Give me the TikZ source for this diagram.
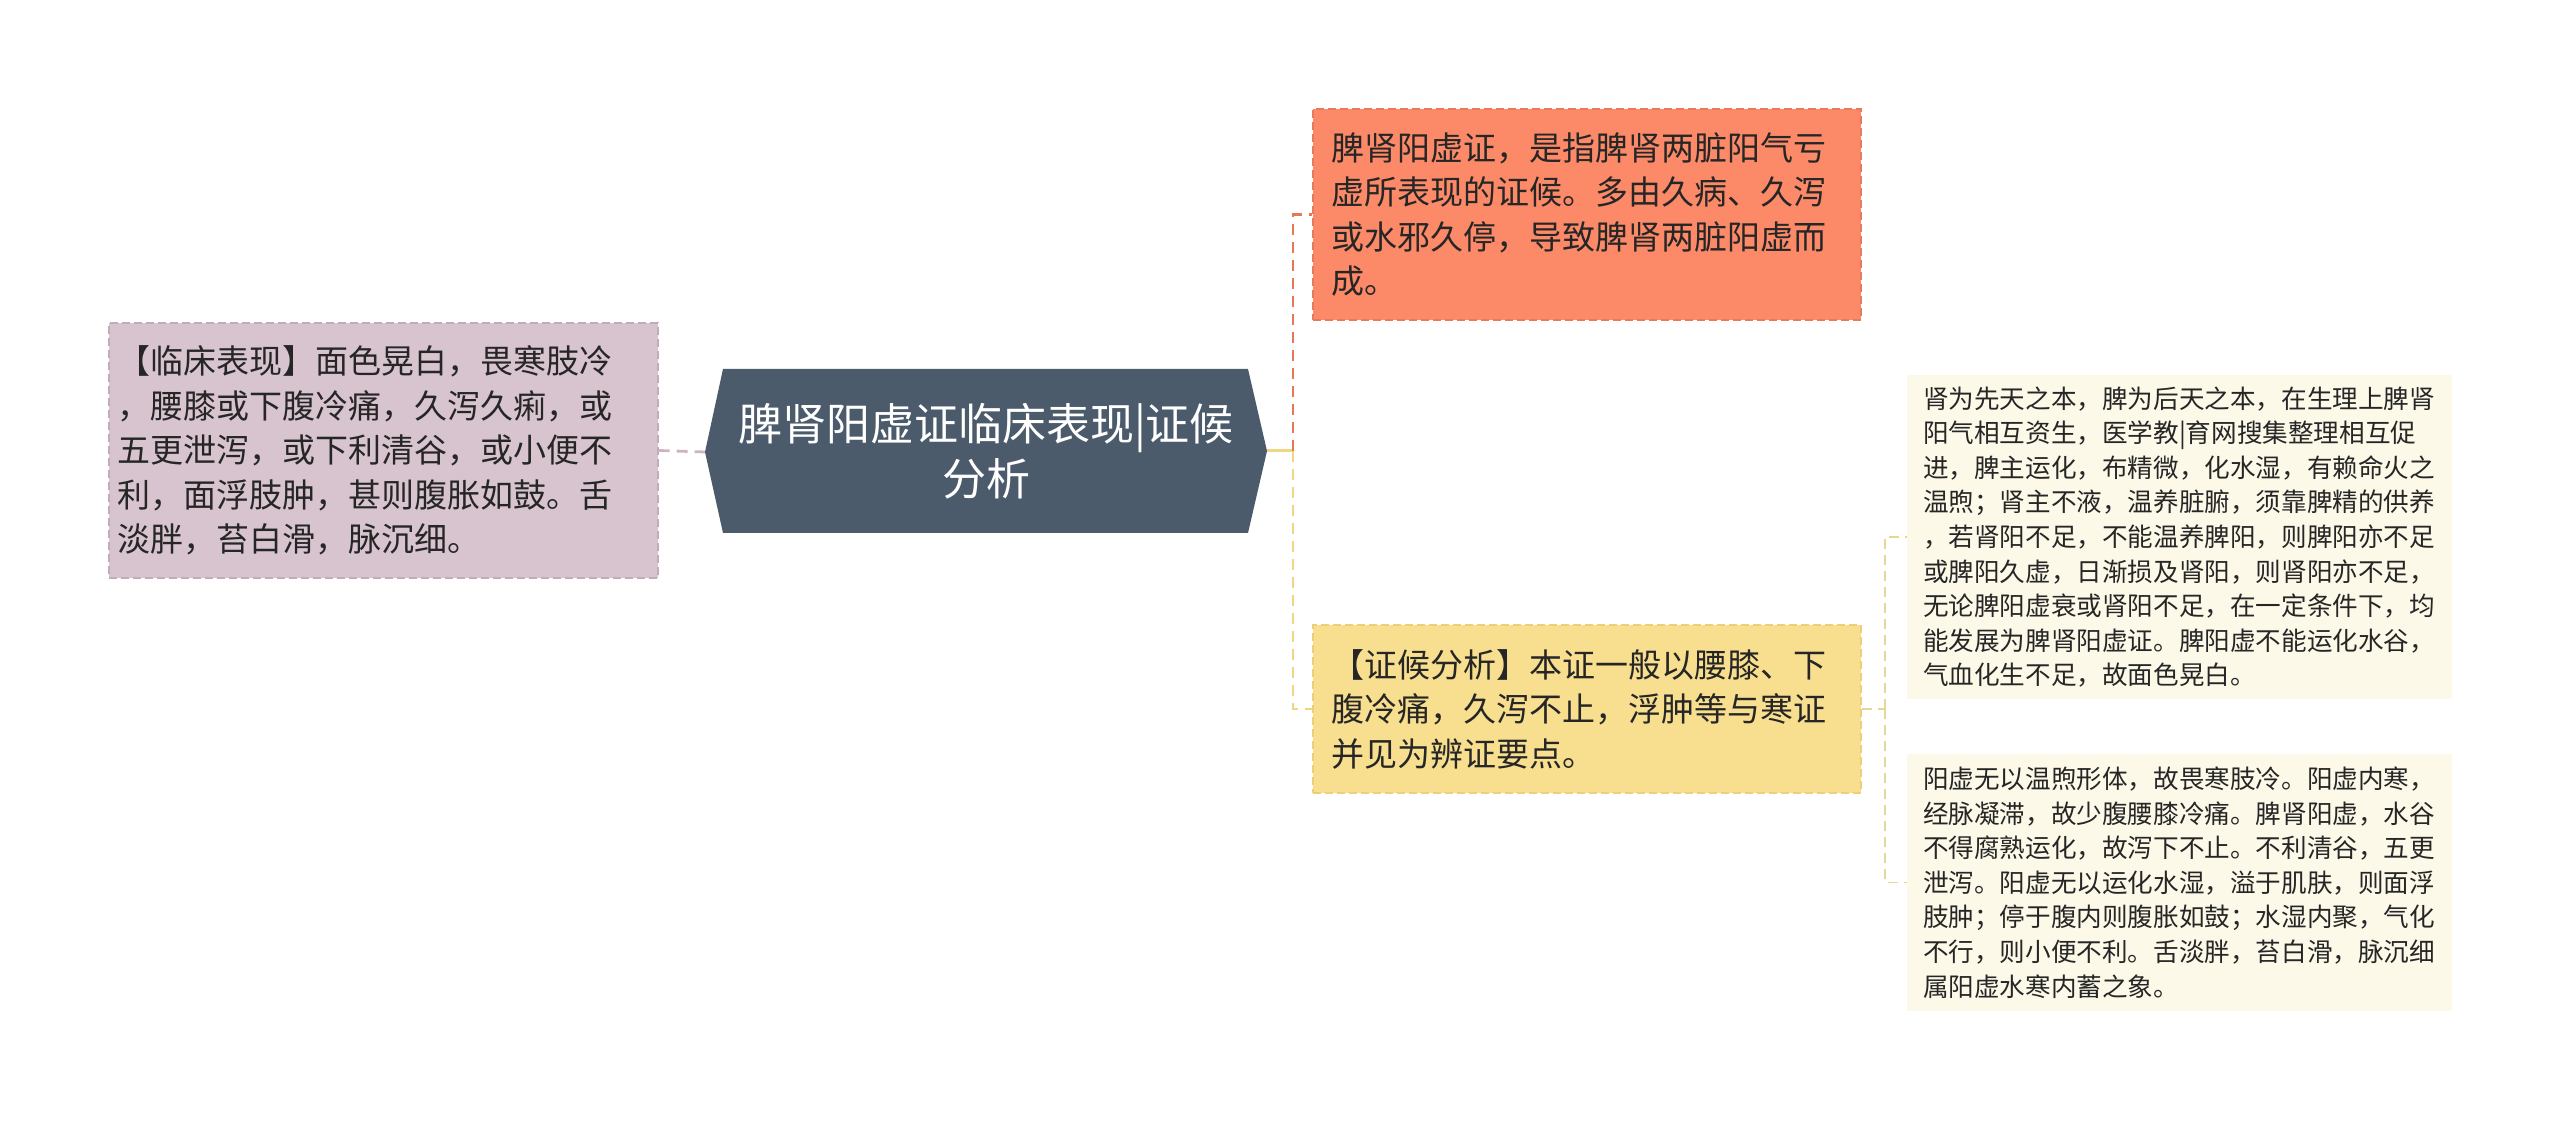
\documentclass[tikz,border=0pt]{standalone}
\usepackage{fontspec}
\setmainfont{Noto Sans CJK SC}
\usetikzlibrary{positioning}
\definecolor{cslate}{HTML}{4B5B6B}
\definecolor{cpink}{HTML}{D8C4CF}
\definecolor{cpinkb}{HTML}{C4ABBA}
\definecolor{csalmon}{HTML}{FC8A68}
\definecolor{csalmonb}{HTML}{E8795A}
\definecolor{cgold}{HTML}{F8DF8F}
\definecolor{cgoldb}{HTML}{EDCF78}
\definecolor{ccream}{HTML}{FDF9E9}
\definecolor{ctext}{HTML}{262626}
\definecolor{cpinkline}{HTML}{D0B3C2}
\definecolor{corangeline}{HTML}{E27A58}
\definecolor{cyellowline}{HTML}{F0D583}
\definecolor{clightline}{HTML}{E6D894}
\tikzset{
  bigbox/.style={inner ysep=0pt, align=left, text=ctext,
    font=\fontsize{16.5}{22.25}\selectfont, dash pattern=on 4pt off 2pt, line width=0.6pt},
  smallbox/.style={inner ysep=0pt, inner xsep=8pt, text width=256.5pt, align=left, text=ctext,
    font=\fontsize{12.8}{17.3}\selectfont, fill=ccream, minimum width=272.5pt},
  conn/.style={line width=1.4pt, dash pattern=on 5.5pt off 3.5pt},
  thinconn/.style={line width=0.9pt, dash pattern=on 5pt off 3pt, draw=clightline},
}
\begin{document}
\begin{tikzpicture}[x=0.5pt,y=-0.5pt]
\useasboundingbox (0,0) rectangle (2560,1122);
\fill[white] (0,0) rectangle (2560,1122);

% central hexagon
\coordinate (cl) at (705,452);
\coordinate (cr) at (1267,451);
\fill[cslate] (cl) -- (723,369) -- (1248,369) -- (cr) -- (1248,533) -- (723,533) -- cycle;
\node[text=white, align=center, font=\fontsize{22}{27.5}\selectfont, inner sep=0pt] (center) at (986,451)
  {脾肾阳虚证临床表现|证候\\分析};

% left box
\node[bigbox, fill=cpink, draw=cpinkb, inner xsep=4pt, text width=266.5pt, minimum height=127.5pt] (left) at (383.5,450.5)
  {【临床表现】面色晃白，畏寒肢冷\\
，腰膝或下腹冷痛，久泻久痢，或\\
五更泄泻，或下利清谷，或小便不\\
利，面浮肢肿，甚则腹胀如鼓。舌\\
淡胖，苔白滑，脉沉细。};

% top right box
\node[bigbox, fill=csalmon, draw=csalmonb, inner xsep=9pt, text width=256pt, minimum height=105.5pt] (top) at (1587,214.5)
  {脾肾阳虚证，是指脾肾两脏阳气亏\\
虚所表现的证候。多由久病、久泻\\
或水邪久停，导致脾肾两脏阳虚而\\
成。};

% yellow box
\node[bigbox, fill=cgold, draw=cgoldb, inner xsep=9pt, text width=256pt, minimum height=84pt] (yel) at (1587,709)
  {【证候分析】本证一般以腰膝、下\\
腹冷痛，久泻不止，浮肿等与寒证\\
并见为辨证要点。};

% small boxes
\node[smallbox, minimum height=162pt] (b1) at (2179.5,537)
  {肾为先天之本，脾为后天之本，在生理上脾肾\\
阳气相互资生，医学教|育网搜集整理相互促\\
进，脾主运化，布精微，化水湿，有赖命火之\\
温煦；肾主不液，温养脏腑，须靠脾精的供养\\
，若肾阳不足，不能温养脾阳，则脾阳亦不足\\
或脾阳久虚，日渐损及肾阳，则肾阳亦不足，\\
无论脾阳虚衰或肾阳不足，在一定条件下，均\\
能发展为脾肾阳虚证。脾阳虚不能运化水谷，\\
气血化生不足，故面色晃白。};

\node[smallbox, minimum height=128.5pt] (b2) at (2179.5,882.5)
  {阳虚无以温煦形体，故畏寒肢冷。阳虚内寒，\\
经脉凝滞，故少腹腰膝冷痛。脾肾阳虚，水谷\\
不得腐熟运化，故泻下不止。不利清谷，五更\\
泄泻。阳虚无以运化水湿，溢于肌肤，则面浮\\
肢肿；停于腹内则腹胀如鼓；水湿内聚，气化\\
不行，则小便不利。舌淡胖，苔白滑，脉沉细\\
属阳虚水寒内蓄之象。};

% connectors
\draw[conn, draw=cpinkline] (left.east) -- (cl);
\coordinate (jc) at (1293,451);
\draw[line width=1.5pt, draw=cyellowline] (cr) -- (jc);
\draw[conn, draw=corangeline] (jc) |- (top.west);
\draw[conn, draw=cyellowline] (jc) |- (yel.west);
\coordinate (jr) at (1885,709);
\draw[thinconn] (yel.east) -- (jr);
\draw[thinconn] (jr) |- (b1.west);
\draw[thinconn] (jr) |- (b2.west);
\end{tikzpicture}
\end{document}
